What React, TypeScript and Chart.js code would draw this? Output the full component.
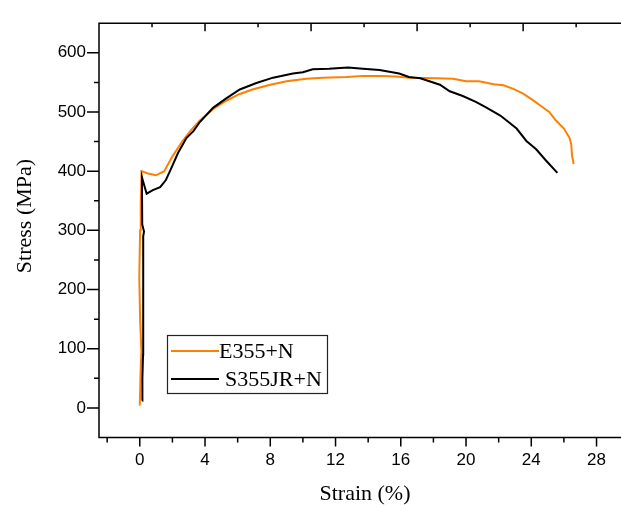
import React, { useEffect, useRef } from "react";
import { Chart, registerables } from "chart.js";

Chart.register(...registerables);

// ---- data ----
const e355Strain = [
  0.0, 0.05, 0.1, 0.02, -0.03, 0.02, 0.06, 0.12, 0.5, 1.0, 1.5, 2.0, 2.6, 3.1, 3.7, 4.5, 5.3, 6.1, 6.9, 8.0,
  9.0, 10.2, 11.2, 12.7, 13.7, 14.7, 15.7, 16.5, 18.2, 19.2, 20.0, 20.8, 21.7, 22.3, 22.9, 23.5, 24.1,
  24.7, 25.1, 25.5, 26.0, 26.35, 26.45, 26.5, 26.6,
];
const e355Stress = [
  4, 60, 95, 150, 220, 300, 350, 400, 396, 393, 400, 425, 450, 468, 486, 505, 519, 530, 538, 546,
  552, 556, 558, 559, 561, 561, 560, 558, 557, 556, 552, 552, 547, 545, 539, 531, 520,
  508, 500, 486, 472, 456, 445, 426, 412,
];

const s355Strain = [
  0.15, 0.16, 0.2, 0.2, 0.22, 0.26, 0.15, 0.13, 0.42, 0.8, 1.25, 1.6, 1.85, 2.35, 2.86, 3.3, 3.68, 4.49,
  5.3, 6.13, 7.15, 8.17, 9.39, 10.0, 10.6, 11.6, 12.76, 13.68, 14.7, 15.9, 16.5, 17.2, 18.4, 19.0, 19.8,
  20.6, 21.2, 22.1, 22.7, 23.1, 23.7, 24.3, 24.9, 25.6,
];
const s355Stress = [
  12, 50, 90, 200, 290, 298, 310, 390, 362, 368, 373, 385, 400, 431, 456, 468, 483, 507,
  523, 538, 549, 558, 565, 567, 572, 573, 575, 573, 571, 565, 559, 557, 546, 535, 527,
  517, 508, 494, 481, 472, 451, 437, 418, 397,
];

const seriesLabels = ["E355+N", "S355JR+N"];
const seriesColors = ["#ff8000", "#000000"];
const xTitle = "Strain (%)";
const yTitle = "Stress (MPa)";

const xTickValues = [0, 4, 8, 12, 16, 20, 24, 28];
const xMinorValues = [-2, 2, 6, 10, 14, 18, 22, 26];
const yTickValues = [0, 100, 200, 300, 400, 500, 600];
const yMinorValues = [50, 150, 250, 350, 450, 550];
const topTickStep = 3.25;

const X_MIN = -2.5;
const X_MAX = 29.5;
const Y_MIN = -50;
const Y_MAX = 650;

const SERIF = "'Liberation Serif', 'Times New Roman', serif";
const SANS = "'Liberation Sans', Arial, sans-serif";

const framePlugin = {
  id: "frame",
  afterDraw(chart: any) {
    const { ctx, chartArea: ca, scales } = chart;
    const x = scales.x;
    const y = scales.y;
    const W = chart.width;
    ctx.save();
    ctx.strokeStyle = "#000";
    ctx.lineWidth = 1.5;
    ctx.beginPath();
    // axis lines
    ctx.moveTo(ca.left, ca.top - 0.75);
    ctx.lineTo(ca.left, ca.bottom + 0.75);
    ctx.moveTo(ca.left - 0.75, ca.bottom);
    ctx.lineTo(W, ca.bottom);
    ctx.moveTo(ca.left - 0.75, ca.top);
    ctx.lineTo(W, ca.top);
    // bottom ticks (outward)
    xTickValues.forEach((v) => {
      const px = x.getPixelForValue(v);
      ctx.moveTo(px, ca.bottom);
      ctx.lineTo(px, ca.bottom + 9);
    });
    xMinorValues.forEach((v) => {
      const px = x.getPixelForValue(v);
      ctx.moveTo(px, ca.bottom);
      ctx.lineTo(px, ca.bottom + 5);
    });
    // left ticks (outward)
    yTickValues.forEach((v) => {
      const py = y.getPixelForValue(v);
      ctx.moveTo(ca.left, py);
      ctx.lineTo(ca.left - 12, py);
    });
    yMinorValues.forEach((v) => {
      const py = y.getPixelForValue(v);
      ctx.moveTo(ca.left, py);
      ctx.lineTo(ca.left - 5, py);
    });
    // top ticks (inward)
    for (let k = 1; ; k++) {
      const v = X_MIN + k * topTickStep;
      if (v > x.max) break;
      const px = x.getPixelForValue(v);
      ctx.moveTo(px, ca.top);
      ctx.lineTo(px, ca.top + (k % 2 === 0 ? 8 : 4));
    }
    ctx.stroke();

    // axis titles
    ctx.fillStyle = "#000";
    ctx.font = `22px ${SERIF}`;
    ctx.textAlign = "center";
    ctx.textBaseline = "middle";
    ctx.fillText(xTitle, 365, 494);
    ctx.save();
    ctx.translate(25, 216);
    ctx.rotate(-Math.PI / 2);
    ctx.fillText(yTitle, 0, 0);
    ctx.restore();

    // legend
    const bx = 167.5, by = 335.5, bw = 160, bh = 58;
    ctx.fillStyle = "#fff";
    ctx.fillRect(bx, by, bw, bh);
    ctx.strokeStyle = "#222";
    ctx.lineWidth = 1.2;
    ctx.strokeRect(bx, by, bw, bh);
    const rows = [
      { y: 351, tx: 219 },
      { y: 379, tx: 225 },
    ];
    rows.forEach((r, i) => {
      ctx.strokeStyle = seriesColors[i];
      ctx.lineWidth = 2;
      ctx.beginPath();
      ctx.moveTo(171, r.y);
      ctx.lineTo(219, r.y);
      ctx.stroke();
      ctx.fillStyle = "#000";
      ctx.font = `22px ${SERIF}`;
      ctx.textAlign = "left";
      ctx.textBaseline = "middle";
      ctx.fillText(seriesLabels[i], r.tx, r.y + 1);
    });
    ctx.restore();
  },
};

export default function App() {
  const canvasRef = useRef<HTMLCanvasElement | null>(null);

  useEffect(() => {
    document.body.style.margin = "0";
    const canvas = canvasRef.current;
    if (!canvas) return;
    const chart = new Chart(canvas, {
      type: "line",
      data: {
        datasets: [
          {
            label: seriesLabels[0],
            data: e355Strain.map((v, i) => ({ x: v, y: e355Stress[i] })),
            borderColor: seriesColors[0],
            borderWidth: 2,
            pointRadius: 0,
            tension: 0,
            fill: false,
            order: 1,
          },
          {
            label: seriesLabels[1],
            data: s355Strain.map((v, i) => ({ x: v, y: s355Stress[i] })),
            borderColor: seriesColors[1],
            borderWidth: 2,
            pointRadius: 0,
            tension: 0,
            fill: false,
            order: 0,
          },
        ],
      },
      options: {
        animation: false,
        responsive: false,
        maintainAspectRatio: false,
        devicePixelRatio: 1,
        layout: { padding: { top: 13, right: 0, left: 0, bottom: 0 } },
        plugins: {
          legend: { display: false },
          tooltip: { enabled: false },
          title: { display: false },
        },
        scales: {
          x: {
            type: "linear",
            min: X_MIN,
            max: X_MAX,
            grid: { display: false, drawTicks: false },
            border: { display: false },
            afterBuildTicks: (scale: any) => {
              scale.ticks = xTickValues.map((v) => ({ value: v }));
            },
            afterFit: (scale: any) => {
              scale.height = 67.5;
            },
            ticks: {
              color: "#000",
              font: { family: SANS, size: 17 },
              padding: 13,
              maxRotation: 0,
              autoSkip: false,
            },
          },
          y: {
            type: "linear",
            min: Y_MIN,
            max: Y_MAX,
            grid: { display: false, drawTicks: false },
            border: { display: false },
            afterBuildTicks: (scale: any) => {
              scale.ticks = yTickValues.map((v) => ({ value: v }));
            },
            afterFit: (scale: any) => {
              scale.width = 99;
            },
            ticks: {
              color: "#000",
              font: { family: SANS, size: 17 },
              padding: 13,
              autoSkip: false,
            },
          },
        },
      },
      plugins: [framePlugin],
    });
    return () => chart.destroy();
  }, []);

  return (
    <div style={{ width: 621, height: 505, overflow: "hidden" }}>
      <style>{"body{margin:0}"}</style>
      <canvas ref={canvasRef} width={621} height={505} style={{ display: "block" }} />
    </div>
  );
}
